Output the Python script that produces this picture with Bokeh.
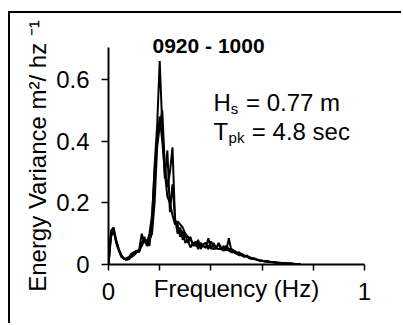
from bokeh.plotting import figure
from bokeh.models import Label, CustomJSTickFormatter, FixedTicker, Range1d
from bokeh.embed import file_html
from bokeh.resources import INLINE

# frequency (Hz), step 0.01
freq = [round(i * 0.01, 2) for i in range(76)]

spec_a = [0.0, 0.11, 0.12, 0.08, 0.05, 0.03, 0.02, 0.015, 0.02, 0.03,
          0.035, 0.04, 0.05, 0.10, 0.07, 0.08, 0.06, 0.14, 0.32, 0.45,
          0.66, 0.45, 0.28, 0.37, 0.17, 0.26, 0.15, 0.10, 0.12, 0.08,
          0.10, 0.07, 0.09, 0.06, 0.075, 0.05, 0.07, 0.06, 0.055, 0.085,
          0.05, 0.07, 0.055, 0.065, 0.05, 0.06, 0.045, 0.085, 0.045, 0.04,
          0.035, 0.04, 0.03, 0.025, 0.03, 0.02, 0.018, 0.02, 0.015, 0.012,
          0.012, 0.01, 0.012, 0.008, 0.008, 0.007, 0.006, 0.006, 0.005, 0.004,
          0.004, 0.003, 0.003, 0.002, 0.002, 0.001]

spec_b = [0.0, 0.10, 0.11, 0.07, 0.045, 0.025, 0.018, 0.02, 0.025, 0.035,
          0.04, 0.045, 0.04, 0.07, 0.09, 0.06, 0.08, 0.10, 0.20, 0.38,
          0.45, 0.50, 0.32, 0.25, 0.30, 0.38, 0.14, 0.13, 0.09, 0.11,
          0.07, 0.08, 0.055, 0.07, 0.06, 0.08, 0.05, 0.065, 0.07, 0.05,
          0.075, 0.06, 0.05, 0.07, 0.055, 0.05, 0.06, 0.05, 0.05, 0.045,
          0.04, 0.035, 0.035, 0.03, 0.025, 0.025, 0.02, 0.018, 0.016, 0.014,
          0.012, 0.011, 0.01, 0.009, 0.008, 0.007, 0.006, 0.005, 0.005, 0.004,
          0.003, 0.003, 0.002, 0.002, 0.001, 0.001]

spec_c = [0.0, 0.09, 0.11, 0.075, 0.05, 0.03, 0.02, 0.015, 0.018, 0.025,
          0.03, 0.04, 0.045, 0.06, 0.08, 0.07, 0.10, 0.16, 0.30, 0.40,
          0.48, 0.40, 0.30, 0.22, 0.20, 0.16, 0.13, 0.14, 0.13, 0.12,
          0.10, 0.09, 0.08, 0.07, 0.07, 0.065, 0.06, 0.06, 0.055, 0.06,
          0.055, 0.05, 0.055, 0.05, 0.05, 0.045, 0.05, 0.045, 0.04, 0.04,
          0.035, 0.03, 0.03, 0.028, 0.025, 0.022, 0.02, 0.018, 0.015, 0.013,
          0.012, 0.01, 0.009, 0.008, 0.007, 0.006, 0.006, 0.005, 0.004, 0.004,
          0.003, 0.003, 0.002, 0.002, 0.001, 0.0]

x_ticks = [0, 0.2, 0.4, 0.6, 0.8, 1]
y_ticks = [0, 0.2, 0.4, 0.6]

FONT = "Liberation Sans"

p = figure(width=393, height=312, output_backend="svg", toolbar_location=None,
           x_range=Range1d(0, 1), y_range=Range1d(0, 0.704),
           title="0920 - 1000",
           min_border_left=98, min_border_right=39, min_border_top=34, min_border_bottom=61)
p.margin = (11, 0, 0, 8)
p.styles = {"border-left": "2px solid black", "border-top": "2px solid black"}
p.outline_line_color = None
p.grid.visible = False
p.background_fill_color = "white"
p.border_fill_color = "white"

p.title.text_font = FONT
p.title.text_font_size = "21px"
p.title.text_font_style = "bold"
p.title.text_color = "black"
p.title.align = "left"
p.title.offset = 44
p.title.standoff = -19

for s in (spec_c, spec_b, spec_a):
    p.line(freq, s, line_color="black", line_width=2)

# x axis
xa = p.xaxis[0]
xa.ticker = FixedTicker(ticks=x_ticks)
xa.formatter = CustomJSTickFormatter(code="return (tick == 0 || tick == 1) ? tick.toFixed(0) : '';")
xa.axis_line_width = 2
xa.major_tick_line_width = 1.5
xa.major_tick_in = 0
xa.major_tick_out = 6
xa.minor_tick_line_color = None
xa.major_label_standoff = 12
xa.major_label_text_font = FONT
xa.major_label_text_font_size = "24px"
xa.major_label_text_color = "black"
xa.axis_label = "Frequency (Hz)"
xa.axis_label_text_font = FONT
xa.axis_label_text_font_size = "24px"
xa.axis_label_text_font_style = "normal"
xa.axis_label_text_color = "black"
xa.axis_label_standoff = -28

# y axis
ya = p.yaxis[0]
ya.ticker = FixedTicker(ticks=y_ticks)
ya.formatter = CustomJSTickFormatter(code="return tick == 0 ? '0' : tick.toFixed(1);")
ya.axis_line_width = 2
ya.major_tick_line_width = 1.5
ya.major_tick_in = 0
ya.major_tick_out = 7
ya.minor_tick_line_color = None
ya.major_label_standoff = 12
ya.major_label_text_font = FONT
ya.major_label_text_font_size = "24px"
ya.major_label_text_color = "black"
ya.axis_label = "Energy Variance m\u00b2/ hz \u207b\u00b9"
ya.axis_label_text_font = FONT
ya.axis_label_text_font_size = "24px"
ya.axis_label_text_font_style = "normal"
ya.axis_label_text_color = "black"
ya.axis_label_standoff = 2

def lab(x, y, text, size, style="normal", align="left"):
    p.add_layout(Label(x=x, y=y, text=text, text_font=FONT, text_font_size=size,
                       text_font_style=style, text_align=align,
                       text_baseline="alphabetic", text_color="black"))

lab(0.41, 0.525, "H", "24px")
lab(0.478, 0.505, "s", "15px")
lab(0.537, 0.525, "= 0.77 m", "24px")
lab(0.41, 0.431, "T", "24px")
lab(0.469, 0.411, "pk", "15px")
lab(0.56, 0.431, "= 4.8 sec", "24px")

open("out.html", "w").write(file_html(p, INLINE))
